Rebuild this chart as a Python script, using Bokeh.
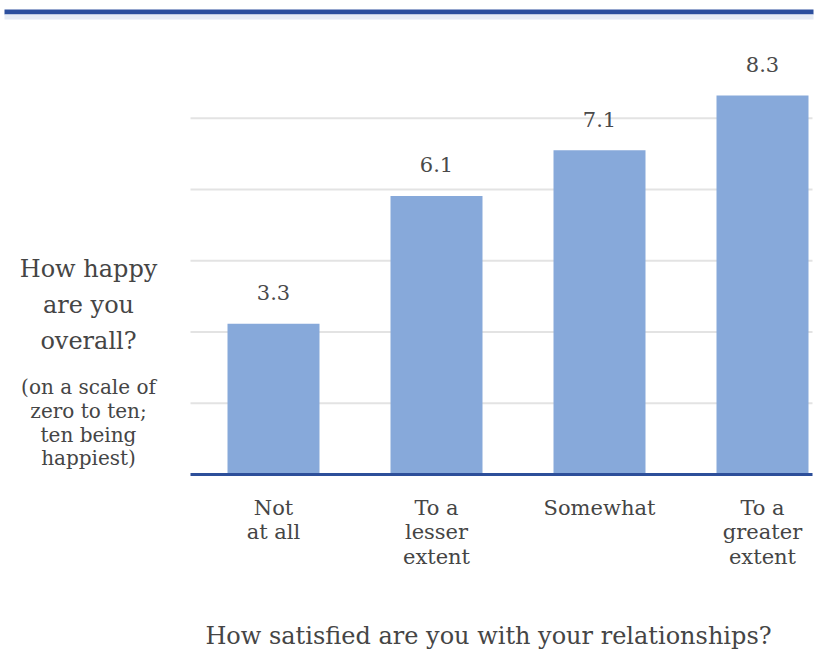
from bokeh.plotting import figure
from bokeh.models import Range1d, BoxAnnotation, ColumnDataSource
from bokeh.core.properties import value
from bokeh.embed import file_html
from bokeh.resources import INLINE

categories = ["Not\nat all", "To a\nlesser\nextent", "Somewhat", "To a\ngreater\nextent"]
happiness = [3.3, 6.1, 7.1, 8.3]
value_labels = ["3.3", "6.1", "7.1", "8.3"]
grid_values = [1.56, 3.12, 4.68, 6.24, 7.80]
y_title_lines = ["How happy", "are you", "overall?"]
y_note_lines = ["(on a scale of", "zero to ten;", "ten being", "happiest)"]
x_title = "How satisfied are you with your relationships?"

W, H = 817, 650
FONT = value("DejaVu Serif")
BAR = "#87a9da"
TEXT = "#454545"

# layout helpers (canvas pixel -> data)
X0_PX, X_STEP = 273, 163
BASE_PX, PX_PER_UNIT = 474, 45.66
def px2x(px):
    return (px - X0_PX) / X_STEP
def py2y(py):
    return (BASE_PX - py) / PX_PER_UNIT

p = figure(width=W, height=H, output_backend="svg", toolbar_location=None,
           min_border=0, x_range=Range1d(px2x(0), px2x(W)),
           y_range=Range1d(py2y(H), py2y(0)))
p.axis.visible = False
p.grid.visible = False
p.outline_line_color = None
p.background_fill_color = "white"
p.border_fill_color = "white"

xs = list(range(len(categories)))
src = ColumnDataSource(dict(x=xs, top=happiness, lab=value_labels, cat=categories))

# grid lines
p.segment(x0=[px2x(190)] * len(grid_values), x1=[px2x(812)] * len(grid_values),
          y0=grid_values, y1=grid_values, line_color="#e3e3e3", line_width=2)

# bars
p.vbar(x="x", top="top", bottom=0, width=92 / X_STEP, source=src,
       fill_color=BAR, line_color=None)

# baseline
p.segment(x0=[px2x(190)], x1=[px2x(812)], y0=[0], y1=[0], line_color="#2d4f9a", line_width=3)

# top rule
p.add_layout(BoxAnnotation(top=py2y(9), bottom=py2y(14), left=px2x(4), right=px2x(813),
                           fill_color="#2c4f9e", fill_alpha=1, line_color=None))
p.add_layout(BoxAnnotation(top=py2y(14), bottom=py2y(19), left=px2x(4), right=px2x(813),
                           fill_color="#e6ecf5", fill_alpha=1, line_color=None))

# value labels
p.text(x="x", y="top", text="lab", source=src, text_font=FONT, text_font_size="21px",
       text_color="#4a4a4a", text_align="center",
       text_baseline="middle", y_offset=-31)

# category labels
p.text(x="x", y=0, text="cat", source=src, text_font=FONT, text_font_size="21px",
       text_color=TEXT, text_align="center", text_baseline="top", y_offset=21,
       text_line_height=1.04)

# left annotation
p.text(x=[px2x(88)] * 3, y=[py2y(268), py2y(304), py2y(340)], text=y_title_lines,
       text_font=FONT, text_font_size="24px", text_color=TEXT,
       text_align="center", text_baseline="middle")
p.text(x=[px2x(88)] * 4, y=[py2y(386), py2y(410), py2y(434), py2y(457)], text=y_note_lines,
       text_font=FONT, text_font_size="20px", text_color=TEXT,
       text_align="center", text_baseline="middle")

# x title
p.text(x=[px2x(488)], y=[py2y(635)], text=[x_title], text_font=FONT,
       text_font_size="24px", text_color=TEXT, text_align="center", text_baseline="middle")

open("out.html", "w").write(file_html(p, INLINE))
